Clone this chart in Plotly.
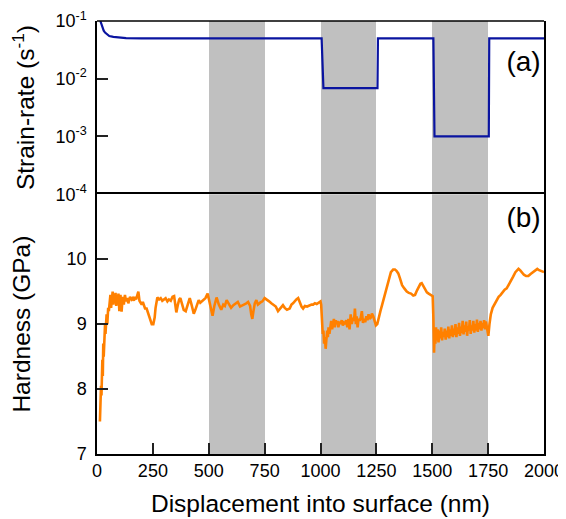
import plotly.graph_objects as go
from plotly.subplots import make_subplots

# ---------------- data ----------------
band_start = [500, 1000, 1500]
band_end = [750, 1250, 1750]

sr_disp = [15, 20, 25, 30, 36, 45, 55, 73, 100, 130, 200, 1005, 1013, 1255, 1257,
           1505, 1510, 1753, 1755, 2000]
sr_rate = [0.1, 0.088, 0.076, 0.068, 0.063, 0.058, 0.055, 0.053, 0.0515, 0.0505, 0.05,
           0.05, 0.0069, 0.0069, 0.05, 0.05, 0.001, 0.001, 0.05, 0.05]

h_disp = [
    13, 16, 18, 20, 22, 24, 26, 28, 30, 33, 36, 38, 40, 43, 46, 50, 53, 56, 60, 63,
    66, 70, 73, 76, 80, 83, 86, 90, 93, 96, 100,
    105, 110, 115, 120, 125, 130, 135, 140, 148, 155, 160, 165, 170, 175, 180, 185,
    190, 195, 200, 205, 210, 215, 222, 230, 240, 245, 252, 258, 262, 266, 270,
    278, 285, 292, 300, 307, 315, 322, 330, 338, 345, 350, 355, 362, 368, 373, 380,
    388, 397, 405, 415, 423, 433, 440, 447, 455, 462, 470, 478, 485, 495,
    502, 510, 517, 525, 535, 545, 556, 565, 572, 580, 590, 600, 610, 620, 630, 640,
    652, 660, 668, 676, 685, 690, 695, 700, 706, 713, 720, 730, 740, 750,
    760, 770, 780, 790, 800, 810, 818, 825, 832, 840, 850, 862, 870, 877, 885, 892,
    900, 908, 915, 922, 930, 940, 952, 960, 967, 975, 983, 990, 1000,
    1003, 1006, 1010, 1013, 1016, 1020, 1023, 1026, 1030, 1033, 1036, 1040, 1044,
    1048, 1052, 1056, 1060, 1064, 1068, 1072, 1076, 1080, 1085, 1090, 1095, 1100,
    1105, 1110, 1115, 1120, 1125, 1130, 1135, 1140, 1145, 1150, 1154, 1158, 1162,
    1166, 1170, 1175, 1180, 1185, 1190, 1195, 1200, 1205, 1210, 1215, 1220, 1225,
    1230, 1236, 1242, 1248, 1254,
    1260, 1268, 1276, 1285, 1295, 1305, 1315, 1325, 1333, 1340, 1348, 1356, 1365,
    1375, 1386, 1395, 1405, 1415, 1423, 1432, 1440, 1447, 1453, 1460, 1468, 1476,
    1484, 1490, 1497, 1502,
    1505, 1508, 1511, 1514, 1517, 1520, 1524, 1528, 1532, 1536, 1540, 1544, 1548,
    1552, 1556, 1560, 1564, 1568, 1572, 1576, 1580, 1584, 1588, 1592, 1596, 1600,
    1604, 1608, 1612, 1616, 1620, 1624, 1628, 1632, 1636, 1640, 1644, 1648, 1652,
    1656, 1660, 1664, 1668, 1672, 1676, 1680, 1684, 1688, 1692, 1696, 1700, 1704,
    1708, 1712, 1716, 1720, 1724, 1728, 1732, 1736, 1740, 1744, 1748, 1751,
    1756, 1762, 1770, 1780, 1788, 1797, 1806, 1815, 1824, 1833, 1842, 1852, 1862,
    1872, 1880, 1886, 1893, 1900, 1910, 1920, 1930, 1940, 1950, 1960, 1970, 1978,
    1985, 1992, 2000,
]
h_gpa = [
    7.5, 7.8, 8.05, 7.9, 8.2, 8.45, 8.2, 8.7, 8.5, 8.75, 9.0, 8.85, 9.1, 9.15, 9.0,
    9.25, 9.2, 9.3, 9.45, 9.25, 9.4, 9.5, 9.3, 9.47, 9.35, 9.48, 9.28, 9.45, 9.3,
    9.47, 9.2,
    9.45, 9.19, 9.42, 9.3, 9.45, 9.35, 9.4, 9.32, 9.42, 9.38, 9.4, 9.36, 9.42, 9.38,
    9.44, 9.5, 9.36, 9.32, 9.3, 9.34, 9.28, 9.24, 9.24, 9.15, 9.05, 9.0, 9.0, 9.1,
    9.25, 9.35, 9.41,
    9.38, 9.4, 9.36, 9.39, 9.4, 9.35, 9.38, 9.36, 9.42, 9.43, 9.3, 9.18, 9.3, 9.38,
    9.4, 9.3, 9.22, 9.2, 9.3, 9.4, 9.3, 9.16, 9.22, 9.3, 9.37, 9.33, 9.35, 9.38,
    9.4, 9.47,
    9.35, 9.2, 9.13, 9.28, 9.41, 9.3, 9.22, 9.3, 9.28, 9.37, 9.3, 9.25, 9.29, 9.32,
    9.34, 9.27, 9.29, 9.3, 9.32, 9.34, 9.28, 9.15, 9.08, 9.2, 9.32, 9.37, 9.3, 9.33,
    9.35, 9.40,
    9.38, 9.35, 9.32, 9.3, 9.27, 9.2, 9.24, 9.27, 9.29, 9.25, 9.22, 9.24, 9.3, 9.32,
    9.36, 9.38, 9.40, 9.32, 9.27, 9.24, 9.28, 9.27, 9.29, 9.3, 9.3, 9.32, 9.31, 9.33,
    9.35,
    9.3, 9.0, 8.85, 8.9, 8.7, 8.8, 8.62, 8.75, 8.9, 8.8, 8.95, 8.85, 8.95, 9.05,
    8.92, 9.0, 9.08, 8.95, 9.06, 9.0, 9.05, 8.95, 9.04, 9.0, 9.06, 8.98, 9.02, 9.0,
    9.06, 8.95, 9.08, 8.92, 9.15, 9.0, 9.1, 9.05, 9.24, 9.0, 9.12, 8.95, 9.08, 9.05,
    9.1, 9.2, 9.02, 9.08, 9.03, 9.12, 9.06, 9.15, 9.08, 9.1, 9.16, 9.12, 9.05, 8.98,
    9.0,
    9.1, 9.2, 9.3, 9.42, 9.55, 9.7, 9.8, 9.84, 9.84, 9.82, 9.78, 9.7, 9.6, 9.55,
    9.5, 9.48, 9.47, 9.44, 9.45, 9.52, 9.58, 9.62, 9.63, 9.58, 9.53, 9.49, 9.47,
    9.46, 9.45, 9.43,
    9.1, 8.56, 8.9, 8.7, 8.95, 8.75, 8.92, 8.72, 8.9, 8.78, 8.95, 8.75, 8.88, 8.8,
    8.93, 8.76, 8.9, 8.8, 8.96, 8.78, 8.92, 8.82, 8.98, 8.8, 8.93, 8.83, 9.0, 8.8,
    8.95, 8.85, 9.02, 8.82, 8.96, 8.86, 9.05, 8.84, 8.98, 8.88, 9.04, 8.82, 8.97,
    8.9, 9.06, 8.85, 8.98, 8.9, 9.05, 8.87, 9.0, 8.9, 9.07, 8.88, 9.02, 8.92, 9.05,
    8.9, 9.02, 8.94, 9.06, 8.92, 9.04, 8.95, 8.85, 8.82,
    9.0, 9.15, 9.25, 9.32, 9.37, 9.42, 9.45, 9.5, 9.53, 9.55, 9.6, 9.66, 9.73, 9.8,
    9.84, 9.85, 9.83, 9.8, 9.76, 9.74, 9.74, 9.77, 9.8, 9.83, 9.85, 9.83, 9.82, 9.8,
    9.8,
]

# panel labels: text, displacement, value in each panel
label_a = ["(a)"]
label_a_x = [1985]
label_a_y = [0.018]
label_b = ["(b)"]
label_b_x = [1985]
label_b_y = [10.6]

x_range = [0, 2000]
sr_range = [1e-4, 1e-1]
h_range = [7, 11]
sr_tickvals = [1e-4, 1e-3, 1e-2, 1e-1]
sr_ticktext = ["10<sup>-4</sup>", "10<sup>-3</sup>", "10<sup>-2</sup>", "10<sup>-1</sup>"]
sr_minor_vals = [m * d for d in [1e-4, 1e-3, 1e-2] for m in range(2, 10)]
h_tickvals = [7, 8, 9, 10]
h_minor_vals = [7 + 0.2 * i for i in range(1, 20)]
x_tickvals = [0, 250, 500, 750, 1000, 1250, 1500, 1750, 2000]
x_minor_vals = list(range(50, 2000, 50))

# ---------------- figure ----------------
FONT = "Liberation Sans, Arial, sans-serif"
fig = make_subplots(rows=2, cols=1, shared_xaxes=True, vertical_spacing=0,
                    row_heights=[0.4, 0.6])

band_center = [(s + e) / 2 for s, e in zip(band_start, band_end)]
band_width = [e - s for s, e in zip(band_start, band_end)]

fig.add_trace(go.Bar(x=band_center, width=band_width,
                     y=[sr_range[1] - sr_range[0]] * len(band_center),
                     base=sr_range[0], marker=dict(color="#c0c0c0", line=dict(width=0)),
                     hoverinfo="skip", showlegend=False), row=1, col=1)
fig.add_trace(go.Bar(x=band_center, width=band_width,
                     y=[h_range[1] - h_range[0]] * len(band_center),
                     base=h_range[0], marker=dict(color="#c0c0c0", line=dict(width=0)),
                     hoverinfo="skip", showlegend=False), row=2, col=1)

fig.add_trace(go.Scatter(x=sr_disp, y=sr_rate, mode="lines",
                         line=dict(color="#0a14a0", width=2.2), showlegend=False),
              row=1, col=1)
fig.add_trace(go.Scatter(x=h_disp, y=h_gpa, mode="lines",
                         line=dict(color="#ff8000", width=2.6), showlegend=False),
              row=2, col=1)

fig.add_trace(go.Scatter(x=label_a_x, y=label_a_y, text=label_a, mode="text",
                         textposition="middle left", hoverinfo="skip",
                         textfont=dict(family=FONT, size=28, color="black"),
                         showlegend=False, cliponaxis=False), row=1, col=1)
fig.add_trace(go.Scatter(x=label_b_x, y=label_b_y, text=label_b, mode="text",
                         textposition="middle left", hoverinfo="skip",
                         textfont=dict(family=FONT, size=28, color="black"),
                         showlegend=False, cliponaxis=False), row=2, col=1)

TICKFONT = dict(family=FONT, size=18, color="black")
TITLEFONT = dict(family=FONT, size=24.5, color="black")
TC = "#222222"

fig.update_xaxes(row=1, col=1, range=x_range, showticklabels=False, automargin=False)
fig.update_xaxes(row=2, col=1, range=x_range, showline=True, linecolor="black",
                 linewidth=1.5, mirror=True, ticks="inside", ticklen=11,
                 tickwidth=2, tickcolor=TC, tickvals=x_tickvals,
                 tickfont=TICKFONT, automargin=False, layer="above traces",
                 title=dict(text="Displacement into surface (nm)", font=TITLEFONT))
fig.update_yaxes(row=1, col=1, type="log", range=[-4, -1], showline=True,
                 linecolor="black", linewidth=1.5, mirror=True, ticks="inside",
                 ticklen=11, tickwidth=2, tickcolor=TC, tickvals=sr_tickvals,
                 ticktext=sr_ticktext, tickfont=TICKFONT, automargin=False,
                 layer="above traces", ticklabelstandoff=5,
                 title=dict(text="Strain-rate (s<sup>-1</sup>)", font=TITLEFONT,
                            standoff=16))
fig.update_yaxes(row=2, col=1, range=h_range, showline=True, linecolor="black",
                 linewidth=1.5, mirror=True, ticks="inside", ticklen=11,
                 tickwidth=2, tickcolor=TC, tickvals=h_tickvals,
                 tickfont=TICKFONT, automargin=False, layer="above traces",
                 ticklabelstandoff=5,
                 title=dict(text="Hardness (GPa)", font=TITLEFONT, standoff=30))

# overlay axes carrying the short minor ticks
fig.update_layout(
    xaxis3=dict(overlaying="x2", anchor="y2", side="bottom", range=x_range,
                tickvals=x_minor_vals, ticks="inside", ticklen=6, tickwidth=1.5,
                tickcolor=TC, showticklabels=False, showgrid=False,
                zeroline=False, showline=False, automargin=False),
    yaxis3=dict(overlaying="y", anchor="x", side="left", type="log",
                range=[-4, -1], tickvals=sr_minor_vals, ticks="inside", ticklen=6,
                tickwidth=1.5, tickcolor=TC, showticklabels=False,
                showgrid=False, zeroline=False, showline=False, automargin=False),
    yaxis4=dict(overlaying="y2", anchor="x2", side="left", range=h_range,
                tickvals=h_minor_vals, ticks="inside", ticklen=6, tickwidth=1.5,
                tickcolor=TC, showticklabels=False, showgrid=False,
                zeroline=False, showline=False, automargin=False),
)

# top frame line of the upper panel
fig.add_shape(type="line", xref="x domain", yref="y domain", x0=0, x1=1, y0=1, y1=1,
              line=dict(color="black", width=1.5))

fig.update_layout(width=558, height=511, margin=dict(l=89, r=22, t=13, b=65),
                  paper_bgcolor="white", plot_bgcolor="white", bargap=0,
                  font=dict(family=FONT, color="black"))

fig.write_html("out.html")
